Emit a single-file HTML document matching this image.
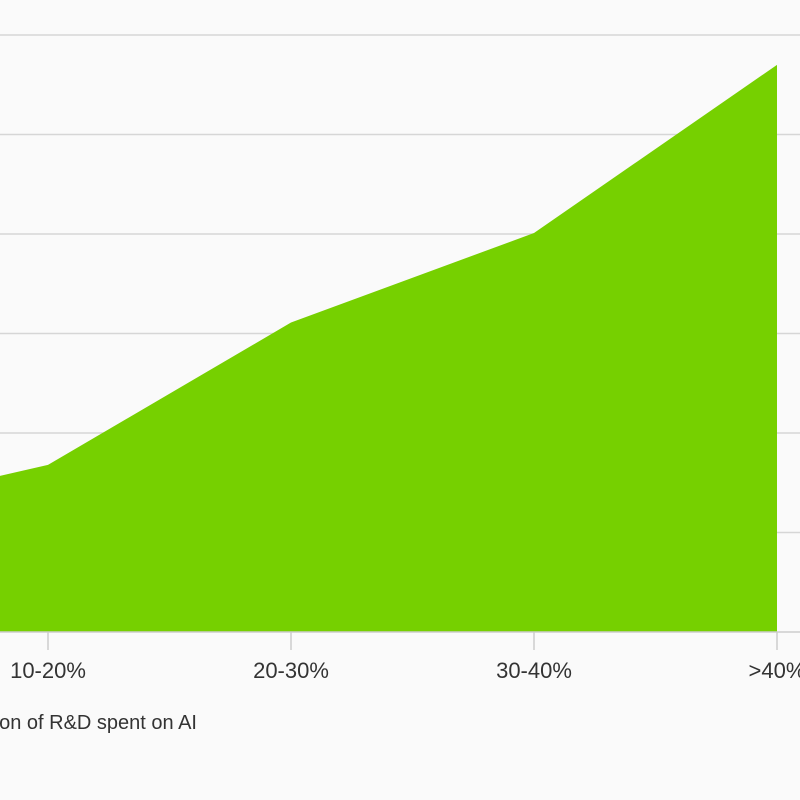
<!DOCTYPE html>
<html><head><meta charset="utf-8"><style>
html,body{margin:0;padding:0;background:#fafafa;}
svg{display:block;font-family:"Liberation Sans",sans-serif;}
</style></head><body>
<svg id="chart" width="800" height="800" viewBox="0 0 800 800">
<rect width="800" height="800" fill="#fafafa"/>
<g id="grid"></g><g id="area"></g><g id="xaxis"></g>
<text x="197" y="729" text-anchor="end" font-size="20" fill="#333">Proportion of R&amp;D spent on AI</text>
</svg>
<script>
const categories = ["<10%", "10-20%", "20-30%", "30-40%", ">40%"];
const values = [1.12, 1.68, 3.11, 4.01, 5.70];
const gridTicks = [1, 2, 3, 4, 5, 6];
const ns = "http://www.w3.org/2000/svg";
const x0 = -195, xStep = 243, baseY = 632, unit = 99.5;
function xPos(i){ return x0 + i * xStep; }
function yPos(v){ return baseY - v * unit; }
const grid = document.getElementById('grid');
gridTicks.forEach(t => {
  const l = document.createElementNS(ns, 'line');
  l.setAttribute('x1', 0); l.setAttribute('x2', 800);
  l.setAttribute('y1', yPos(t)); l.setAttribute('y2', yPos(t));
  l.setAttribute('stroke', '#d6d6d6'); l.setAttribute('stroke-width', 1.5);
  
  
  grid.appendChild(l);
});
let d = 'M' + xPos(0) + ',' + baseY;
values.forEach((v, i) => { d += ' L' + xPos(i) + ',' + yPos(v); });
d += ' L' + xPos(values.length - 1) + ',' + baseY + ' Z';
const p = document.createElementNS(ns, 'path');
p.setAttribute('d', d); p.setAttribute('fill', '#76d000');


document.getElementById('area').appendChild(p);
const xa = document.getElementById('xaxis');
const base = document.createElementNS(ns, 'line');
base.setAttribute('x1', 0); base.setAttribute('x2', 800);
base.setAttribute('y1', baseY); base.setAttribute('y2', baseY);
base.setAttribute('stroke', '#cccccc'); base.setAttribute('stroke-width', 1.5);


xa.appendChild(base);
categories.forEach((c, i) => {
  const x = xPos(i);
  const t = document.createElementNS(ns, 'line');
  t.setAttribute('x1', x); t.setAttribute('x2', x);
  t.setAttribute('y1', baseY); t.setAttribute('y2', baseY + 18);
  t.setAttribute('stroke', '#cccccc'); t.setAttribute('stroke-width', 1.5);
  
  
  xa.appendChild(t);
  const tx = document.createElementNS(ns, 'text');
  tx.setAttribute('x', x); tx.setAttribute('y', 678);
  tx.setAttribute('text-anchor', 'middle'); tx.setAttribute('font-size', '22');
  tx.setAttribute('fill', '#333');
  tx.textContent = c;
  
  
  xa.appendChild(tx);
});
</script>
</body></html>
